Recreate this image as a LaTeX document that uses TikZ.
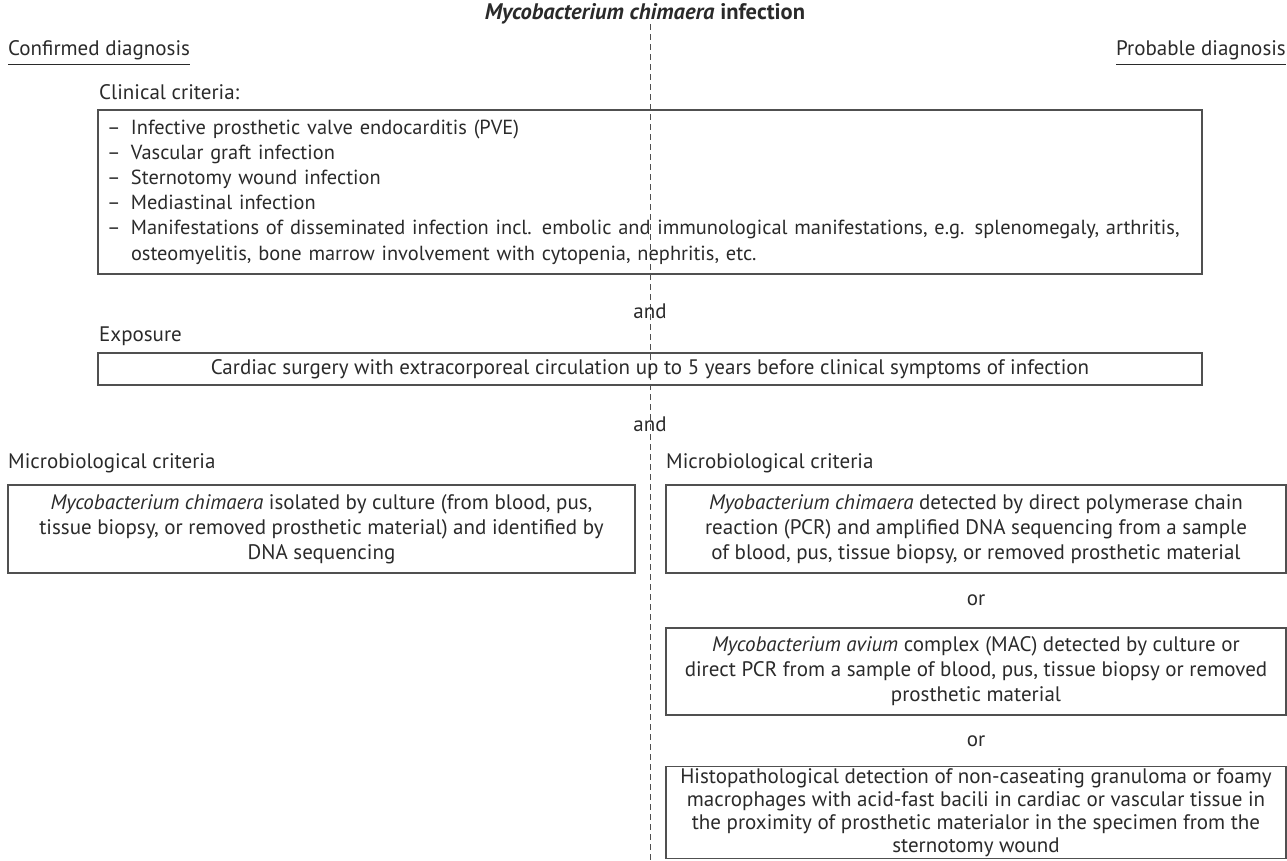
\documentclass[tikz,border=0pt]{standalone}
\usepackage{fontspec}
\setmainfont{PT Sans}
\definecolor{ink}{HTML}{2A2A2A}
\definecolor{lin}{HTML}{505050}
\newcommand{\fs}{\fontsize{21}{25}\selectfont}
\newcommand{\dsh}{\makebox[24pt][l]{--}}
\begin{document}
\begin{tikzpicture}[x=1pt,y=-1pt,
  every node/.style={font=\fs, text=ink},
  box/.style={draw=lin, line width=1.3pt, inner sep=0pt, align=center},
  lbl/.style={anchor=west, inner sep=0pt},
  sep/.style={draw=lin, dash pattern=on 5.5pt off 4.5pt, line width=0.9pt},
  uline/.style={draw=ink, line width=0.9pt}]
\useasboundingbox (0,0) rectangle (1287,860);
% title and dashed separator
\node[inner sep=0pt, font=\fontsize{22.5}{26}\selectfont\bfseries] (title) at (645,14) {\textit{Mycobacterium chimaera} infection};
\coordinate (top) at (650,24);
\coordinate (bot) at (650,860);
\draw[sep] (top) -- (bot);
% diagnosis headers
\node[lbl] (conf) at (8,50) {Confirmed diagnosis};
\node[inner sep=0pt, anchor=east] (prob) at (1286,50) {Probable diagnosis};
\draw[uline] ([yshift=-5pt]conf.south west) -- ([yshift=-5pt]conf.south east);
\draw[uline] ([yshift=-5pt]prob.south west) -- ([yshift=-5pt]prob.south east);
% clinical criteria
\node[lbl] (clin) at (99,92) {Clinical criteria:};
\node[box, minimum width=1104, minimum height=164, text width=1086, align=left,
      font=\fontsize{20.4}{25.2}\selectfont] (cbox) at (650,192) {%
\mbox{\dsh Infective prosthetic valve endocarditis (PVE)}\\
\mbox{\dsh Vascular graft infection}\\
\mbox{\dsh Sternotomy wound infection}\\
\mbox{\dsh Mediastinal infection}\\
\mbox{\dsh Manifestations of disseminated infection incl. embolic and immunological manifestations, e.g. splenomegaly, arthritis,}\\
\mbox{\hspace*{24pt}osteomyelitis, bone marrow involvement with cytopenia, nephritis, etc.}};
\node[inner sep=0pt] (and1) at (650,311) {and};
% exposure
\node[lbl] (expo) at (99,336) {Exposure};
\node[box, minimum width=1104, minimum height=32] (ebox) at (650,369) {Cardiac surgery with extracorporeal circulation up to 5 years before clinical symptoms of infection};
\node[inner sep=0pt] (and2) at (650,424) {and};
% microbiological
\node[lbl] (microL) at (8,463) {Microbiological criteria};
\node[lbl] (microR) at (666,463) {Microbiological criteria};
\node[box, minimum width=627, minimum height=88] (lbox) at (321.5,529) {\textit{Mycobacterium chimaera} isolated by culture (from blood, pus,\\ tissue biopsy, or removed prosthetic material) and identified by\\ DNA sequencing};
\node[box, minimum width=620, minimum height=88] (rbox1) at (976,529) {\textit{Myobacterium chimaera} detected by direct polymerase chain\\ reaction (PCR) and amplified DNA sequencing from a sample\\ of blood, pus, tissue biopsy, or removed prosthetic material};
\node[inner sep=0pt] (or1) at (976,600) {or};
\node[box, minimum width=620, minimum height=87] (rbox2) at (976,671.5) {\textit{Mycobacterium avium} complex (MAC) detected by culture or\\ direct PCR from a sample of blood, pus, tissue biopsy or removed\\ prosthetic material};
\node[inner sep=0pt] (or2) at (976,741) {or};
\node[box, minimum width=620, minimum height=92, anchor=south, font=\fontsize{21}{22.8}\selectfont] (rbox3) at (976,859.2) {Histopathological detection of non-caseating granuloma or foamy\\ macrophages with acid-fast bacili in cardiac or vascular tissue in\\ the proximity of prosthetic materialor in the specimen from the\\ sternotomy wound};
\end{tikzpicture}
\end{document}
